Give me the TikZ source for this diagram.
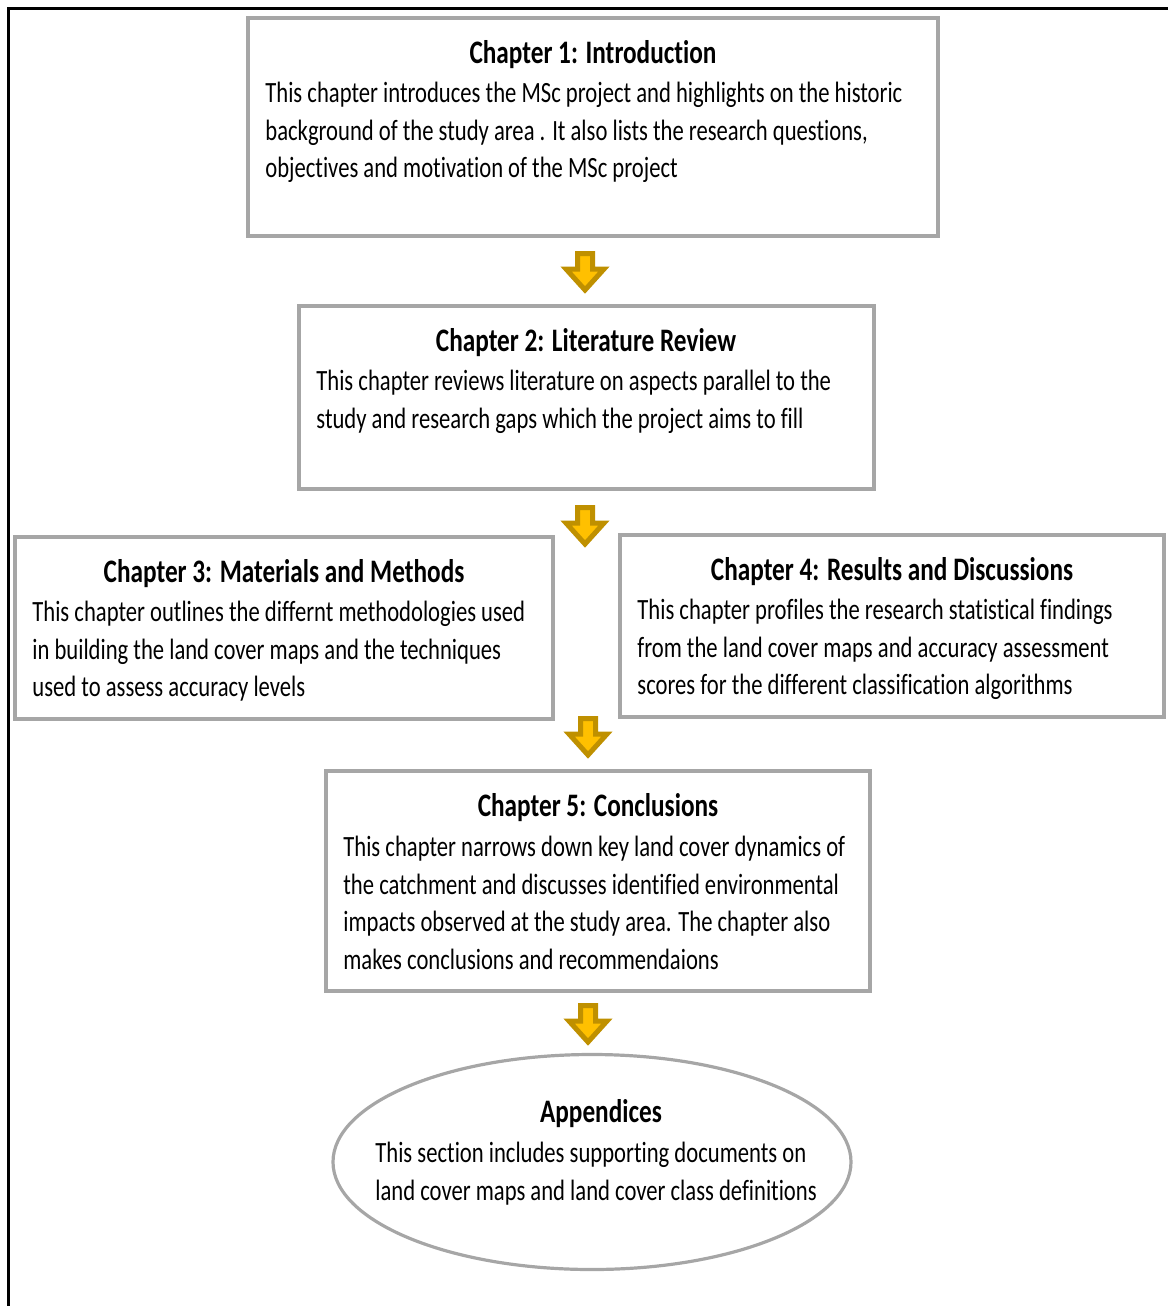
\documentclass[tikz,border=0pt]{standalone}
\usepackage{fontspec}
\setmainfont{Carlito}[FakeStretch=0.77, Ligatures=NoCommon]
\usepackage{tikz}
\usetikzlibrary{shapes.geometric,fit}

\definecolor{boxgray}{HTML}{A6A6A6}
\definecolor{arrowdark}{HTML}{BF9000}
\definecolor{arrowgold}{HTML}{FFC000}

\tikzset{
  chbox/.style={draw=boxgray, line width=1.6pt, inner sep=0pt},
  chtitle/.style={font=\fontsize{16.4}{20}\selectfont\bfseries, inner sep=0pt, anchor=base},
  chtext/.style={font=\fontsize{14.7}{18.75}\selectfont, align=left, inner sep=0pt, anchor=north west},
  downarrow/.pic={
    \draw[line width=2.5pt, draw=arrowdark, fill=arrowgold, line join=miter]
      (-7.5,2.5) -- (7.5,2.5) -- (7.5,18) -- (19,18) -- (0,39)
      -- (-19,18) -- (-7.5,18) -- cycle;
  }
}

\begin{document}
\begin{tikzpicture}[x=0.5pt, y=-0.5pt]

      \useasboundingbox (0,0) rectangle (1168,1306);
      \draw[line width=1.5pt] (8,1306) -- (8,8) -- (1168,8);

      % chapter boxes
      \node (ch1) [chbox, fit={(248,18) (938,236)}] {};
      \node (ch2) [chbox, fit={(299,306) (874,489)}] {};
      \node (ch3) [chbox, fit={(15,537) (553,719)}] {};
      \node (ch4) [chbox, fit={(620,535) (1164,717)}] {};
      \node (ch5) [chbox, fit={(326,771) (870,991)}] {};
      \node (app) [chbox, ellipse, minimum width=259pt, minimum height=107.5pt] at (592,1162) {};

      \node (ch1title) [chtitle] at (593,63) {Chapter 1: Introduction};
      \node (ch1text) [chtext] at (265,82) {This chapter introduces the MSc project and highlights on the historic\\
        background of the study area . It also lists the research questions,\\
        objectives and motivation of the MSc project};

      \node (ch2title) [chtitle] at (586,351) {Chapter 2: Literature Review};
      \node (ch2text) [chtext] at (316,370) {This chapter reviews literature on aspects parallel to the\\
        study and research gaps which the project aims to fill};

      \node (ch3title) [chtitle] at (284,582) {Chapter 3: Materials and Methods};
      \node (ch3text) [chtext] at (32,601) {This chapter outlines the differnt methodologies used\\
        in building the land cover maps and the techniques\\
        used to assess accuracy levels};

      \node (ch4title) [chtitle] at (892,580) {Chapter 4: Results and Discussions};
      \node (ch4text) [chtext] at (637,599) {This chapter profiles the research statistical findings\\
        from the land cover maps and accuracy assessment\\
        scores for the different classification algorithms};

      \node (ch5title) [chtitle] at (598,816) {Chapter 5: Conclusions};
      \node (ch5text) [chtext] at (343,836) {This chapter narrows down key land cover dynamics of\\
        the catchment and discusses identified environmental\\
        impacts observed at the study area. The chapter also\\
        makes conclusions and recommendaions};

      \node (apptitle) [chtitle] at (601,1122) {Appendices};
      \node (apptext) [chtext] at (375,1142) {This section includes supporting documents on\\
        land cover maps and land cover class definitions};

      % arrows between chapters
      \pic at (585,251) {downarrow};
      \pic at (585,505) {downarrow};
      \pic at (588,716) {downarrow};
      \pic at (588,1003) {downarrow};

\end{tikzpicture}
\end{document}
